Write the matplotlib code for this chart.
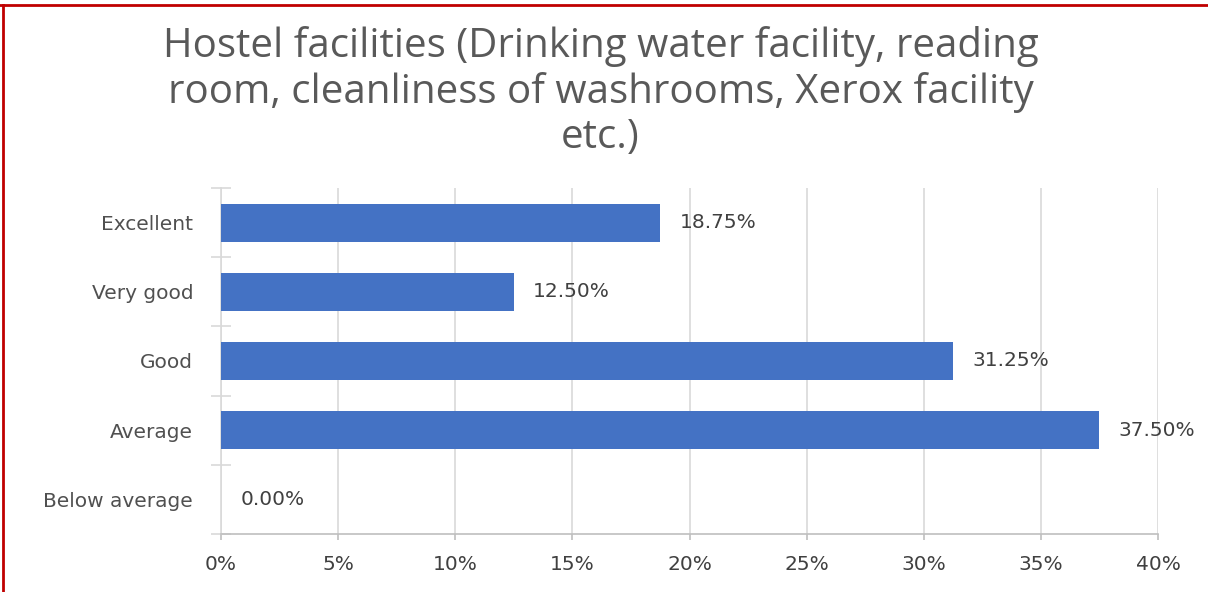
import matplotlib
matplotlib.use("Agg")
import matplotlib.pyplot as plt
from matplotlib.lines import Line2D
from matplotlib.ticker import FuncFormatter

categories = ["Excellent", "Very good", "Good", "Average", "Below average"]
values = [18.75, 12.50, 31.25, 37.50, 0.00]
x_ticks = [0, 5, 10, 15, 20, 25, 30, 35, 40]
title = "Hostel facilities (Drinking water facility, reading\nroom, cleanliness of washrooms, Xerox facility\netc.)"

LBL = 14.5
fig = plt.figure(figsize=(12.08, 5.92), dpi=100)
ax = fig.add_axes([221/1208, 58/592, (1158-221)/1208, (534-188)/592])

n = len(categories)
ypos = list(range(n))[::-1]
ax.barh(ypos, values, height=0.55, color="#4472C4", zorder=3)
for y, v in zip(ypos, values):
    ax.annotate(f"{v:.2f}%", (v, y), xytext=(14, 0), textcoords="offset points",
                ha="left", va="center", fontsize=LBL, color="#404040",
                family="DejaVu Sans", zorder=4)

ax.set_xlim(0, 40)
ax.set_ylim(-0.5, n - 0.5)
ax.set_xticks(x_ticks)
ax.xaxis.set_major_formatter(FuncFormatter(lambda v, p: f"{v:.0f}%"))
ax.set_yticks(ypos)
ax.set_yticklabels(categories)
ax.set_yticks([y + 0.5 for y in range(-1, n)], minor=True)

ax.grid(axis="x", color="#d9d9d9", linewidth=1.2, zorder=0)
for s in ["top", "right"]:
    ax.spines[s].set_visible(False)
ax.spines["left"].set_color("#d9d9d9")
ax.spines["bottom"].set_color("#bfbfbf")
ax.spines["left"].set_linewidth(1.2)
ax.spines["bottom"].set_linewidth(1.2)

ax.tick_params(axis="y", which="major", length=0, pad=20, labelsize=LBL, labelcolor="#505050")
ax.tick_params(axis="y", which="minor", length=14, color="#d9d9d9", width=1.2, direction="inout")
ax.tick_params(axis="x", which="major", length=4, color="#bfbfbf", width=1.2, direction="out",
               pad=11, labelsize=LBL, labelcolor="#404040")
for lab in ax.get_xticklabels() + ax.get_yticklabels():
    lab.set_family("DejaVu Sans")

fig.text(0.497, 0.956, title, ha="center", va="top", fontsize=29, color="#595959",
         family="Open Sans", linespacing=1.15)

# dark red border on top and left
fig.add_artist(Line2D([0, 1], [1 - 4.5/592, 1 - 4.5/592], transform=fig.transFigure,
                      color="#C00000", linewidth=2))
fig.add_artist(Line2D([3/1208, 3/1208], [0, 1 - 4.5/592], transform=fig.transFigure,
                      color="#C00000", linewidth=2))

fig.savefig("out.png", dpi=100)
